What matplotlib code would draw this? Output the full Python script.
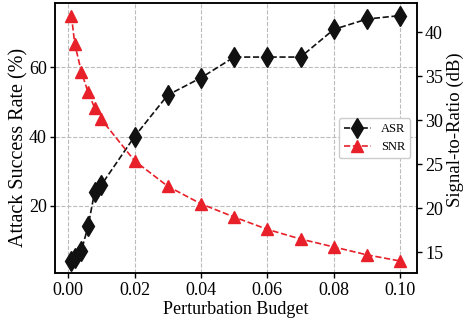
import matplotlib
matplotlib.use('Agg')
import matplotlib.pyplot as plt

plt.rcParams['font.family'] = ['Liberation Serif', 'DejaVu Serif']

# Data
budget = [0.001, 0.002, 0.004, 0.006, 0.008, 0.01, 0.02, 0.03, 0.04, 0.05,
          0.06, 0.07, 0.08, 0.09, 0.10]
asr = [4, 5, 7, 14, 24, 26, 40, 52, 57, 63, 63, 63, 71, 74, 75]
snr = [41.9, 38.7, 35.5, 33.2, 31.4, 30.1, 25.4, 22.5, 20.5, 19.0,
       17.6, 16.5, 15.6, 14.7, 14.0]
x_ticks = [0.00, 0.02, 0.04, 0.06, 0.08, 0.10]

fig = plt.figure(figsize=(4.64, 3.21), dpi=100)
ax = fig.add_axes([0.1185, 0.1486, 0.7795, 0.8411])
ax2 = ax.twinx()

l1, = ax.plot(budget, asr, linestyle='--', color='#111111', marker='d',
              markersize=10, linewidth=1.2, label='ASR')
l2, = ax2.plot(budget, snr, linestyle='--', color='#e8202a', marker='^',
               markersize=8, linewidth=1.2, label='SNR')

ax.set_xticks(x_ticks)
ax.set_xticklabels([f'{t:.2f}' for t in x_ticks])
ax.set_yticks([20, 40, 60])
ax2.set_yticks([15, 20, 25, 30, 35, 40])

ax.grid(True, linestyle='--', color='#bbbbbb', linewidth=0.8)
ax.set_axisbelow(True)

ax.set_xlabel('Perturbation Budget', fontsize=13, labelpad=2)
ax.set_ylabel('Attack Success Rate (%)', fontsize=14.5)
ax2.set_ylabel('Signal-to-Ratio (dB)', fontsize=13.5)
ax.yaxis.set_label_coords(-0.074, 0.468)
ax2.yaxis.set_label_coords(1.083, 0.533)

for a in (ax, ax2):
    a.tick_params(labelsize=13, direction='out', length=3.5, width=1, pad=2.5)
    for s in a.spines.values():
        s.set_linewidth(1.1)

leg = ax2.legend(handles=[l1, l2], loc='center right', fontsize=9,
                 fancybox=True, framealpha=1, edgecolor='#cccccc',
                 handlelength=2.2)

fig.savefig('out.png', dpi=100)
